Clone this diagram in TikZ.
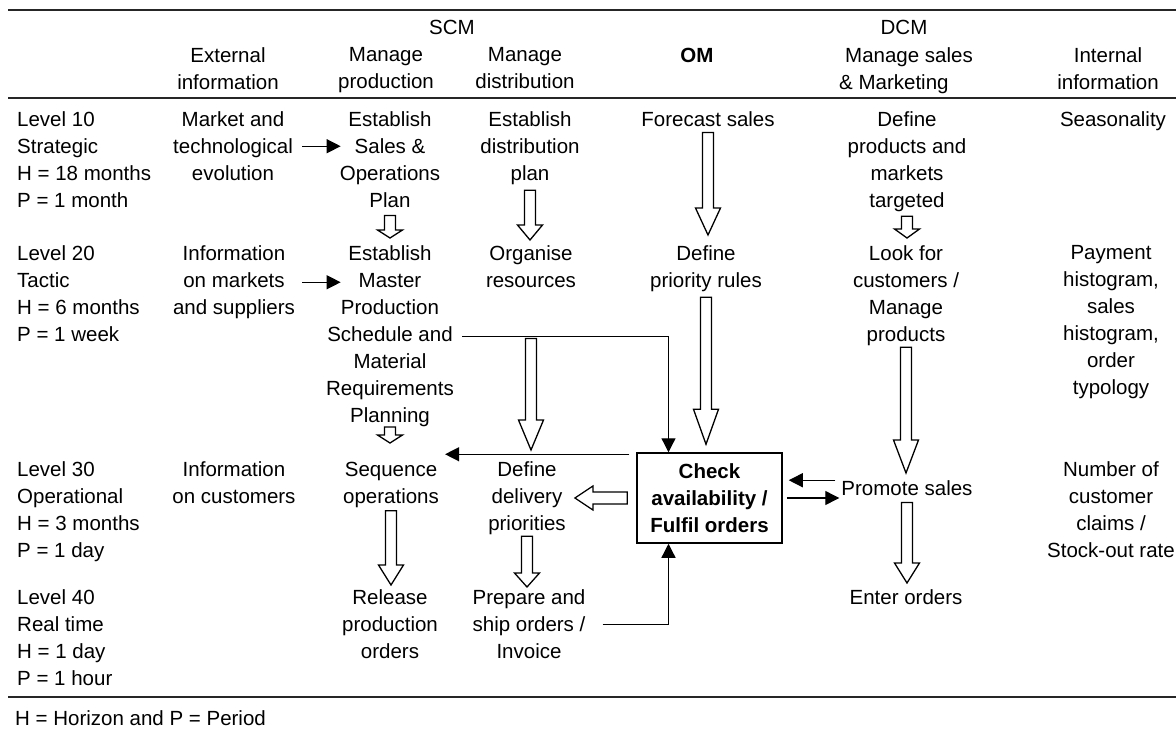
\documentclass[tikz,border=0pt]{standalone}
\usepackage{fontspec}
\setmainfont{Liberation Sans}
\usetikzlibrary{calc,arrows.meta}
\tikzset{
  txt/.style={align=center, inner sep=0pt, anchor=north, font=\fontsize{20.5}{27}\selectfont},
  lvl/.style={align=left, inner sep=0pt, anchor=north west, font=\fontsize{20.5}{27}\selectfont},
  rule/.style={draw=black!85, line width=1.8pt},
  conn/.style={draw, line width=1.3pt, -{Triangle[length=14pt,width=14pt]}},
  hollow/.style={draw, line width=1.3pt, fill=white, line join=miter},
  chkbox/.style={draw, line width=1.5pt, align=center, minimum width=145pt, minimum height=90pt,
    inner sep=0pt, font=\fontsize{20.5}{27}\selectfont\bfseries},
}
% block arrow pointing down: top point, tip point, head length
\newcommand{\blockdown}[3]{%
  \draw[hollow] let \p1=#1, \p2=#2 in
    (\x1-5.5pt,\y1) -- (\x1-5.5pt,\y2+#3) -- (\x1-12.5pt,\y2+#3) -- (\x1,\y2)
    -- (\x1+12.5pt,\y2+#3) -- (\x1+5.5pt,\y2+#3) -- (\x1+5.5pt,\y1) -- cycle;}
% block arrow pointing left: start point, tip point, head length
\newcommand{\blockleft}[3]{%
  \draw[hollow] let \p1=#1, \p2=#2 in
    (\x1,\y1+6pt) -- (\x2+#3,\y1+6pt) -- (\x2+#3,\y1+12pt) -- (\x2,\y1)
    -- (\x2+#3,\y1-12pt) -- (\x2+#3,\y1-6pt) -- (\x1,\y1-6pt) -- cycle;}

\begin{document}
\begin{tikzpicture}[x=1pt,y=1pt]
  \useasboundingbox (0,0) rectangle (1176,-731);

  % rules
  \draw[rule] (8,-10) -- (1176,-10);
  \draw[rule] (8,-98) -- (1176,-98);
  \draw[rule] (8,-697) -- (1176,-697);

  % header
  \node[txt] (scm) at (452,-19.5) {SCM};
  \node[txt] (dcm) at (904,-19.5) {DCM};
  \node[txt] (ext) at (228,-47.5) {External\\information};
  \node[txt] (mprod) at (386,-47.5) {Manage\\production};
  \node[txt] (mdist) at (525,-47.5) {Manage\\distribution};
  \node[txt,font=\fontsize{20.5}{27}\selectfont\bfseries] (om) at (697,-47.5) {OM};
  \node[lvl] (msales) at (839,-47.5) {\hspace*{6pt}Manage sales\\\& Marketing};
  \node[txt] (intinfo) at (1108,-47.5) {Internal\\information};

  % levels
  \node[lvl] (lvl10) at (17,-111.5) {Level 10\\Strategic\\H = 18 months\\P = 1 month};
  \node[lvl] (lvl20) at (17,-245.5) {Level 20\\Tactic\\H = 6 months\\P = 1 week};
  \node[lvl] (lvl30) at (17,-461.5) {Level 30\\Operational\\H = 3 months\\P = 1 day};
  \node[lvl] (lvl40) at (17,-589.5) {Level 40\\Real time\\H = 1 day\\P = 1 hour};

  % external information
  \node[txt] (mkt) at (233,-111.5) {Market and\\technological\\evolution};
  \node[txt] (infomkt) at (234,-245.5) {Information\\on markets\\and suppliers};
  \node[txt] (infocust) at (234,-461.5) {Information\\on customers};

  % manage production
  \node[txt] (sop) at (390,-111.5) {Establish\\Sales \&\\Operations\\Plan};
  \node[txt] (mps) at (390,-245.5) {Establish\\Master\\Production\\Schedule and\\Material\\Requirements\\Planning};
  \node[txt] (seq) at (391,-461.5) {Sequence\\operations};
  \node[txt] (rel) at (390,-589.5) {Release\\production\\orders};

  % manage distribution
  \node[txt] (dplan) at (530,-111.5) {Establish\\distribution\\plan};
  \node[txt] (org) at (531,-245.5) {Organise\\resources};
  \node[txt] (ddel) at (527,-461.5) {Define\\delivery\\priorities};
  \node[txt] (prep) at (529,-589.5) {Prepare and\\ship orders /\\Invoice};

  % OM
  \node[txt] (fc) at (708,-111.5) {Forecast sales};
  \node[txt] (prio) at (706,-245.5) {Define\\priority rules};
  \node[chkbox] (chk) at (709.5,-498) {Check\\availability /\\Fulfil orders};

  % manage sales & marketing
  \node[txt] (dprod) at (907,-111.5) {Define\\products and\\markets\\targeted};
  \node[txt] (look) at (906,-245.5) {Look for\\customers /\\Manage\\products};
  \node[txt] (ps) at (907,-480.5) {Promote sales};
  \node[txt] (enter) at (906,-589.5) {Enter orders};

  % internal information
  \node[txt] (seas) at (1113,-111.5) {Seasonality};
  \node[txt] (pay) at (1111,-245.5) {Payment\\histogram,\\sales\\histogram,\\order\\typology};
  \node[txt] (claims) at (1111,-461.5) {Number of\\customer\\claims /\\Stock-out rate};

  \node[lvl] (foot) at (15,-710.5) {H = Horizon and P = Period};

  % information flows
  \draw[conn] ([xshift=9pt]mkt.east) -- ($(mkt.east -| sop.west)+(1,0)$);
  \draw[conn] ([xshift=7pt]infomkt.east) -- ($(infomkt.east -| sop.west)+(1,0)$);
  \draw[conn] ([xshift=8pt]mps.east) -| ([xshift=-41pt]chk.north);
  \coordinate (c1) at ([shift={(-7pt,-2pt)}]chk.north west);
  \draw[conn] (c1) -- ($(c1 -| seq.east)+(6,0)$);
  \draw[conn] ($(ps.west)+(-6,8)$) -- ($(ps.west -| chk.east)+(6,8)$);
  \draw[conn] ($(chk.east)+(4,0)$) -- ($(chk.east -| ps.west)+(-2,0)$);
  \draw[conn] ($(prep.east)+(17,0)$) -| ([xshift=-41pt]chk.south);

  % decision flows
  \blockdown{([yshift=-7.6pt]sop.south)}{([yshift=7.5pt]mps.north)}{8pt}
  \blockdown{([yshift=-5.3pt]dplan.south)}{([yshift=5.5pt]org.north)}{15pt}
  \blockdown{([yshift=-5.6pt]fc.south)}{([yshift=10.5pt]prio.north)}{27pt}
  \blockdown{([yshift=-5.3pt]prio.south)}{([yshift=8pt]chk.north)}{35pt}
  \blockdown{([yshift=-1.3pt]look.south)}{([yshift=7.5pt]ps.north)}{33pt}
  \blockdown{([yshift=-4.3pt]dprod.south)}{([yshift=7.5pt]look.north)}{9pt}
  \blockdown{([yshift=-50.6pt]org.south)}{([yshift=11.5pt]ddel.north)}{30pt}
  \blockdown{([yshift=0pt]mps.south)}{([yshift=18.5pt]seq.north)}{8pt}
  \blockdown{([yshift=-3.3pt]seq.south)}{([yshift=4.5pt]rel.north)}{20pt}
  \blockdown{([yshift=-1.3pt]ddel.south)}{([yshift=2.5pt]prep.north)}{14pt}
  \blockdown{([yshift=-6.6pt]ps.south)}{([yshift=6.5pt]enter.north)}{20pt}
  \blockleft{([xshift=-9pt]chk.west)}{($(ddel.east |- chk.west)+(9,0)$)}{18pt}
\end{tikzpicture}
\end{document}
